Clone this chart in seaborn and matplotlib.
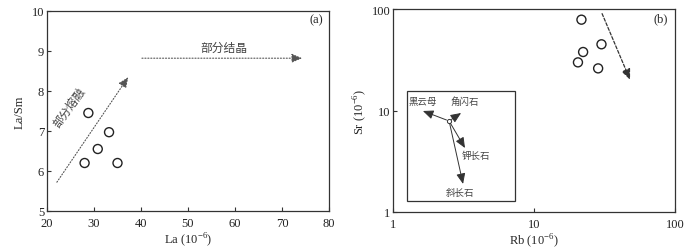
import matplotlib
matplotlib.use('Agg')
import matplotlib.pyplot as plt
import seaborn as sns

# 数据 (a) La vs La/Sm
la = [28.0, 28.8, 30.8, 33.2, 35.0]
la_sm = [6.2, 7.45, 6.55, 6.97, 6.2]

# 数据 (b) Rb vs Sr
rb = [21.7, 30.1, 22.3, 20.5, 28.5]
sr = [78.5, 44.9, 37.7, 29.8, 26.0]

# 矿物分离结晶矢量 (b 图内插框)
vec_origin = (2.50, 7.88)
vec_names = ['黑云母', '角闪石', '钾长石', '斜长石']
vec_ends = [(1.63, 9.89), (3.04, 9.45), (3.24, 4.27), (3.14, 1.89)]
vec_label_pos = [(1.63, 12.4), (3.24, 12.4), (3.88, 3.64), (2.99, 1.57)]

sns.set_style('ticks')
plt.rcParams['font.family'] = ['Liberation Serif', 'Noto Sans CJK SC']
plt.rcParams['mathtext.fontset'] = 'custom'
plt.rcParams['mathtext.rm'] = 'Liberation Serif'
plt.rcParams['font.size'] = 9
plt.rcParams['axes.edgecolor'] = '#333333'
plt.rcParams['xtick.direction'] = 'in'
plt.rcParams['ytick.direction'] = 'in'

fig = plt.figure(figsize=(7.0, 2.51), dpi=100)
ax1 = fig.add_axes([47 / 700, 1 - 212 / 251, 282 / 700, 200 / 251])
ax2 = fig.add_axes([393 / 700, 1 - 213 / 251, 282 / 700, 203 / 251])

cjk = ['Noto Sans CJK SC']
tcol = '#444444'
head = '-|>,head_length=0.7,head_width=0.3'

# ---- (a)
sns.scatterplot(x=la, y=la_sm, ax=ax1, s=42, facecolor='none', edgecolor='#222222', linewidth=1.0)
ax1.set_xlim(20, 80)
ax1.set_ylim(5, 10)
ax1.set_xticks(range(20, 81, 10))
ax1.set_yticks(range(5, 11))
ax1.set_xlabel('La (10$^{-6}$)', labelpad=1)
ax1.set_ylabel('La/Sm', labelpad=4)
ax1.text(0.979, 0.96, '(a)', transform=ax1.transAxes, ha='right', va='center')

ax1.annotate('', xy=(37.3, 8.35), xytext=(22.1, 5.72),
             arrowprops=dict(arrowstyle=head, linestyle=':', color='#555555', lw=0.8,
                             shrinkA=0, shrinkB=0))
ax1.annotate('', xy=(74.3, 8.82), xytext=(40.2, 8.82),
             arrowprops=dict(arrowstyle=head, linestyle=':', color='#555555', lw=0.8,
                             shrinkA=0, shrinkB=0))
ax1.text(24.8, 7.62, '部分熔融', rotation=54, family=cjk, color=tcol, fontsize=8.3,
         ha='center', va='center')
ax1.text(57.7, 9.1, '部分结晶', family=cjk, color=tcol, fontsize=8.5,
         ha='center', va='center')

# ---- (b)
sns.scatterplot(x=rb, y=sr, ax=ax2, s=42, facecolor='none', edgecolor='#222222', linewidth=1.0)
ax2.set_xscale('log')
ax2.set_yscale('log')
ax2.set_xlim(1, 100)
ax2.set_ylim(1, 100)
ax2.set_xticks([1, 10, 100])
ax2.set_xticklabels(['1', '10', '100'])
ax2.set_yticks([1, 10, 100])
ax2.set_yticklabels(['1', '10', '100'])
ax2.minorticks_off()
ax2.set_xlabel('Rb (10$^{-6}$)', labelpad=1)
ax2.set_ylabel('Sr (10$^{-6}$)', labelpad=2)
ax2.text(0.975, 0.955, '(b)', transform=ax2.transAxes, ha='right', va='center')

ax2.annotate('', xy=(48, 20.1), xytext=(30.4, 90),
             arrowprops=dict(arrowstyle=head, linestyle=(0, (2.5, 1.5)),
                             color='#333333', lw=0.9, shrinkA=0, shrinkB=0))

# 内插框
ax2.add_patch(plt.Rectangle((0.05, 0.054), 0.383, 0.542, transform=ax2.transAxes,
                            fill=False, edgecolor='#333333', lw=0.9))
for (ex, ey) in vec_ends:
    ax2.annotate('', xy=(ex, ey), xytext=vec_origin,
                 arrowprops=dict(arrowstyle='-|>,head_length=0.7,head_width=0.3',
                                 color='#333333', lw=0.7, shrinkA=2, shrinkB=0))
ax2.plot([vec_origin[0]], [vec_origin[1]], marker='o', ms=3, mfc='none', mec='#333333', mew=0.7)
for name, (lx, ly) in zip(vec_names, vec_label_pos):
    ax2.text(lx, ly, name, family=cjk, color=tcol, fontsize=6.8, ha='center', va='center')

for ax in (ax1, ax2):
    ax.tick_params(length=3, width=0.8, colors='#333333', labelcolor='#222222')
    ax.tick_params(axis='x', pad=4)
    ax.tick_params(axis='y', pad=2)
    for sp in ax.spines.values():
        sp.set_linewidth(0.9)

fig.savefig('out.png', dpi=100)
